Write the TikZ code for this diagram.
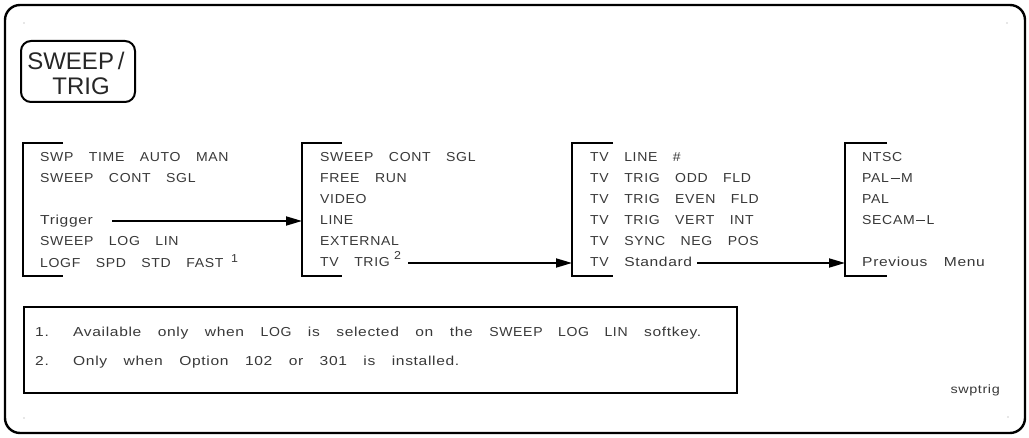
\documentclass[tikz,border=0pt]{standalone}
\usepackage{fontspec}
\setmainfont{Liberation Sans}
\newfontfamily\ucfont{Liberation Sans}[FakeStretch=1.08,WordSpace=3.4,LetterSpace=5]
\newfontfamily\lcfont{Liberation Sans}[FakeStretch=1.2,WordSpace=3.3,LetterSpace=5]
\newcommand{\dashbar}{\kern1.5pt\rule[3.6pt]{9pt}{0.9pt}\kern1.5pt}
\usetikzlibrary{arrows.meta}
\tikzset{
  frame/.style={line width=2.4pt, rounded corners=15pt},
  keybox/.style={line width=2pt, rounded corners=10pt},
  bracket/.style={line width=2.6pt},
  arr/.style={line width=1.8pt, -{Triangle[length=16pt,width=9pt]}},
  menu/.style={anchor=base west, inner sep=0pt, font=\ucfont\fontsize{13}{15}\selectfont, text=black!78},
  note/.style={anchor=base west, inner sep=0pt, font=\lcfont\fontsize{13}{15}\selectfont, text=black!78},
  sup/.style={anchor=base west, inner sep=0pt, font=\ucfont\fontsize{11.5}{13}\selectfont, text=black!78},
  dot/.style={fill=black!40, inner sep=0pt, minimum size=1.2pt, circle}
}
\begin{document}
\begin{tikzpicture}[x=1pt,y=-1pt]
\useasboundingbox (0,0) rectangle (1029,438);
% outer frame
\draw[frame] (5,5) rectangle (1025,433);
\node[dot] (d1) at (24,23) {};
\node[dot] (d2) at (1007,23) {};
\node[dot] (d3) at (24,418) {};
\node[dot] (d4) at (1008,417) {};
% key
\draw[keybox] (21,41) rectangle (135,102);
\node[anchor=base, inner sep=0pt, font=\fontsize{24}{26}\selectfont, text=black!85] (k1) at (76,70) {SWEEP\kern4pt/};
\node[anchor=base, inner sep=0pt, font=\fontsize{24}{26}\selectfont, text=black!85] (k2) at (81,95) {TRIG};
% brackets
\coordinate (b1) at (23,0);
\coordinate (b2) at (302,0);
\coordinate (b3) at (572,0);
\coordinate (b4) at (845,0);
\draw[bracket] (63,143) -| (23,276) -- (63,276);
\draw[bracket] (342,143) -| (302,276) -- (342,276);
\draw[bracket] (613,143) -| (572,276) -- (613,276);
\draw[bracket] (887,143) -| (845,276) -- (887,276);
% menu 1
\node[menu] (m11) at (40,162) {SWP TIME AUTO MAN};
\node[menu] (m12) at (40,183) {SWEEP CONT SGL};
\node[menu] (m14) at (40,225) {\lcfont Trigger};
\node[menu] (m15) at (40,246) {SWEEP LOG LIN};
\node[menu] (m16) at (40,268) {LOGF SPD STD FAST};
\node[sup] (s1) at (231,263) {1};
% menu 2
\node[menu] (m21) at (320,162) {SWEEP CONT SGL};
\node[menu] (m22) at (320,183) {FREE RUN};
\node[menu] (m23) at (320,204) {VIDEO};
\node[menu] (m24) at (320,225) {LINE};
\node[menu] (m25) at (320,246) {EXTERNAL};
\node[menu] (m26) at (320,267) {TV TRIG};
\node[sup] (s2) at (394,259.5) {2};
% menu 3
\node[menu] (m31) at (590,162) {TV LINE \#};
\node[menu] (m32) at (590,183) {TV TRIG ODD FLD};
\node[menu] (m33) at (590,204) {TV TRIG EVEN FLD};
\node[menu] (m34) at (590,225) {TV TRIG VERT INT};
\node[menu] (m35) at (590,246) {TV SYNC NEG POS};
\node[menu] (m36) at (590,267) {TV {\lcfont Standard}};
% menu 4
\node[menu] (m41) at (862,162) {NTSC};
\node[menu] (m42) at (862,183) {PAL\dashbar M};
\node[menu] (m43) at (862,204) {PAL};
\node[menu] (m44) at (862,225) {SECAM\dashbar L};
\node[menu] (m46) at (862,267) {\lcfont Previous Menu};
% arrows
\coordinate (a1) at (112,221);
\coordinate (a2) at (408,263);
\coordinate (a3) at (697,263);
\draw[arr] (a1) -- (a1 -| b2);
\draw[arr] (a2) -- (a2 -| b3);
\draw[arr] (a3) -- (a3 -| b4);
% notes box
\draw[line width=1.8pt] (24,307) rectangle (737,393);
\node[note] (n1) at (35,337) {1.};
\node[note] (n1t) at (73,337) {Available only when {\ucfont LOG} is selected on the {\ucfont SWEEP LOG LIN} softkey.};
\node[note] (n2) at (35,366) {2.};
\node[note] (n2t) at (73,366) {Only when Option 102 or 301 is installed.};
\node[anchor=base east, inner sep=0pt, font=\lcfont\fontsize{12}{13}\selectfont, text=black!78] (lbl) at (1000,394) {swptrig};
\end{tikzpicture}
\end{document}
